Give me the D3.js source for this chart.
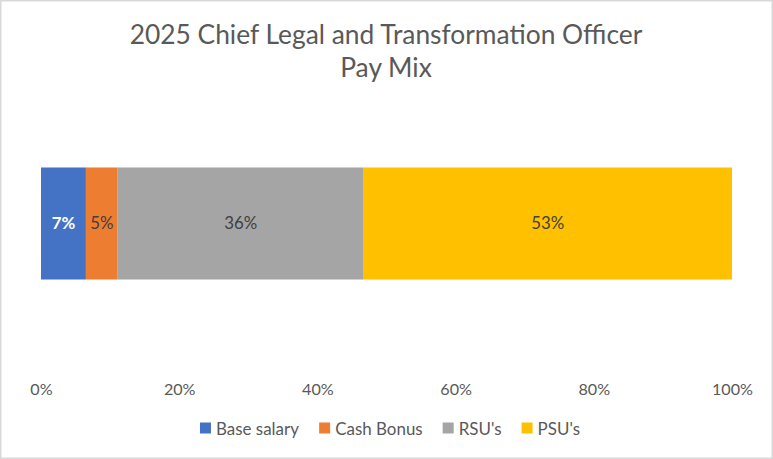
<!DOCTYPE html>
<html><head><meta charset="utf-8">
<script src="https://cdn.jsdelivr.net/npm/d3@7"></script>
<style>body{margin:0;background:#fff}svg{display:block}text{font-family:Lato,"Open Sans",sans-serif}</style>
</head><body>
<script>
const titleLines = ["2025 Chief Legal and Transformation Officer", "Pay Mix"];
const categories = ["Base salary", "Cash Bonus", "RSU's", "PSU's"];
const values = [0.065, 0.046, 0.356, 0.533];
const valueLabels = ["7%", "5%", "36%", "53%"];
const colors = ["#4472C4", "#ED7D31", "#A5A5A5", "#FFC000"];
const tickValues = [0, 0.2, 0.4, 0.6, 0.8, 1.0];

const W = 773, H = 459;
const svg = d3.select("body").append("svg").attr("width", W).attr("height", H);
svg.append("rect").attr("x", 0.75).attr("y", 0.75).attr("width", W - 1.5).attr("height", H - 1.5)
  .attr("fill", "#fff").attr("stroke", "#d9d9d9").attr("stroke-width", 1.5);

function fitSize(str, target, weight) {
  const t = svg.append("text").attr("font-size", 100).attr("font-weight", weight || "normal").text(str);
  const w = t.node().getComputedTextLength();
  t.remove();
  return 100 * target / w;
}

const x = d3.scaleLinear().domain([0, 1]).range([41, 732]);
const y = d3.scaleBand().domain(["Pay Mix"]).range([140, 307]).padding(0.197);

// title
const tSize = fitSize(titleLines[0], 513);
svg.append("g").selectAll("text").data(titleLines).join("text")
  .attr("x", 386).attr("y", (d, i) => 44 + i * 33)
  .attr("text-anchor", "middle").attr("fill", "#595959").attr("font-size", tSize)
  .text(d => d);

// stacked bar
let acc = 0;
const segs = values.map((v, i) => { const s = { x0: acc, x1: acc + v, i }; acc += v; return s; });
const lblSize = fitSize("36%", 33);
const g = svg.append("g");
g.selectAll("rect").data(segs).join("rect")
  .attr("x", d => x(d.x0)).attr("width", d => x(d.x1) - x(d.x0))
  .attr("y", y("Pay Mix")).attr("height", y.bandwidth())
  .attr("fill", d => colors[d.i]);
g.selectAll("text").data(segs).join("text")
  .attr("x", d => (x(d.x0) + x(d.x1)) / 2)
  .attr("y", y("Pay Mix") + y.bandwidth() / 2)
  .attr("dy", "0.35em").attr("text-anchor", "middle")
  .attr("font-size", lblSize)
  .attr("font-weight", d => d.i === 0 ? "bold" : "normal")
  .attr("fill", d => d.i === 0 ? "#ffffff" : "#404040")
  .text(d => valueLabels[d.i]);

// axis
const tickSize = fitSize("100%", 41);
const axis = d3.axisBottom(x).tickValues(tickValues).tickFormat(d3.format(".0%")).tickSize(0).tickPadding(0);
const ag = svg.append("g").attr("transform", "translate(0,381)").call(axis);
ag.select(".domain").remove();
ag.selectAll("text").attr("font-size", tickSize).attr("fill", "#595959")
  .attr("font-family", "Lato,'Open Sans',sans-serif").attr("dy", "0").attr("y", 14);

// legend
const legSize = fitSize("Base salary", 83);
const lg = svg.append("g");
const items = lg.selectAll("g").data(categories).join("g");
items.append("rect").attr("width", 11).attr("height", 11).attr("y", 422.5)
  .attr("fill", (d, i) => colors[i]);
items.append("text").attr("x", 16).attr("y", 435).attr("font-size", legSize)
  .attr("fill", "#595959").text(d => d);
let lx = 0;
const widths = [];
items.each(function () { widths.push(this.getBBox().width); });
const gap = 20;
const total = d3.sum(widths) + gap * (widths.length - 1);
lx = 390 - total / 2;
items.attr("transform", (d, i) => { const tx = lx; lx += widths[i] + gap; return `translate(${tx},0)`; });
</script>
</body></html>
